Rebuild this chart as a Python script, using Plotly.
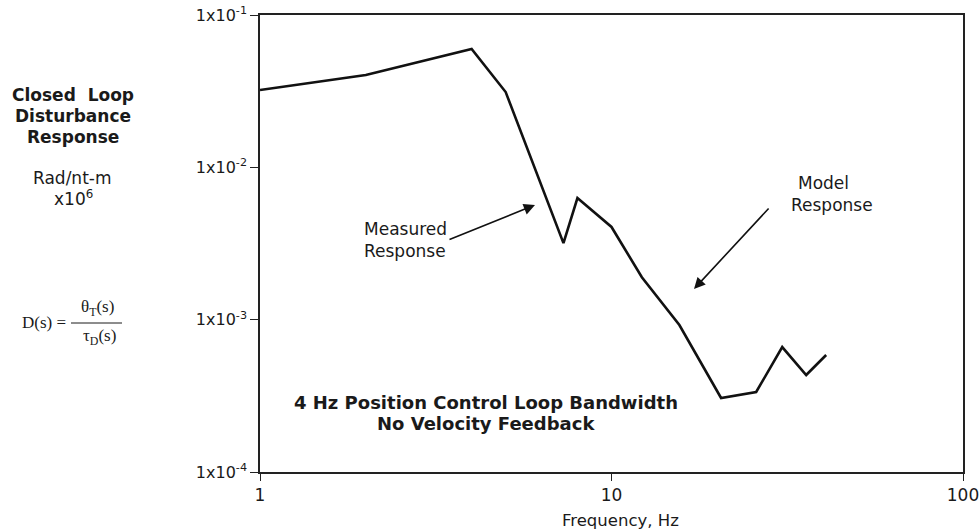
import plotly.graph_objects as go

# Data (frequency in Hz, response)
freq_hz = [1.0, 2.0, 4.0, 5.0, 7.3, 8.0, 10.0, 12.2, 15.6, 20.5, 25.8, 30.6, 35.8, 40.8]
response = [0.0322, 0.0404, 0.0598, 0.0312, 0.00318, 0.00629, 0.00406, 0.00190,
            0.000922, 0.000306, 0.000335, 0.000661, 0.000433, 0.000586]

y_tickvals = [1e-1, 1e-2, 1e-3, 1e-4]
y_ticktext = ["1x10<sup>-1</sup>", "1x10<sup>-2</sup>", "1x10<sup>-3</sup>", "1x10<sup>-4</sup>"]
x_tickvals = [1, 10, 100]
x_ticktext = ["1", "10", "100"]

W, H = 980, 532
L, R, T, B = 260, 963, 15, 472
FONT = "DejaVu Sans, Verdana, sans-serif"
SERIF = "Liberation Serif, Times New Roman, serif"


def px(x):
    return (x - L) / (R - L)


def py(y):
    return (B - y) / (B - T)


fig = go.Figure()
fig.add_trace(go.Scatter(x=freq_hz, y=response, mode="lines",
                         line=dict(color="#111111", width=2.6), showlegend=False,
                         hoverinfo="x+y"))

anns = []


def txt(x, y, s, size=17, bold=False, family=FONT, xanchor="center"):
    anns.append(dict(x=px(x), y=py(y), xref="paper", yref="paper", text=("<b>%s</b>" % s) if bold else s,
                     showarrow=False, font=dict(family=family, size=size, color="#1a1a1a"),
                     xanchor=xanchor, yanchor="middle"))


# left side description
txt(73, 95, "Closed  Loop", 17, True)
txt(73, 116, "Disturbance", 17, True)
txt(73, 137, "Response", 17, True)
txt(72, 178, "Rad/nt-m", 17)
txt(73, 198, "x10<sup>6</sup>", 17)
txt(44, 322, "D(s) =", 17, family=SERIF)
txt(97, 308, "θ<sub>T</sub>(s)", 17, family=SERIF)
txt(99, 337, "τ<sub>D</sub>(s)", 17, family=SERIF)

# in-plot texts
txt(405, 229, "Measured", 17)
txt(405, 251, "Response", 17)
txt(823, 183, "Model", 17)
txt(832, 205, "Response", 17)
txt(486, 402, "4 Hz Position Control Loop Bandwidth", 18, True)
txt(486, 423, "No Velocity Feedback", 18, True)

# x-axis title
txt(620, 520, "Frequency, Hz", 16.5)

# arrows
for (tx, ty, sx, sy) in [(535, 205, 448, 240), (694, 289, 770, 207)]:
    anns.append(dict(x=px(tx), y=py(ty), xref="paper", yref="paper", text="",
                     showarrow=True, ax=sx - tx, ay=sy - ty, axref="pixel", ayref="pixel",
                     arrowhead=2, arrowsize=1.4, arrowwidth=1.6, arrowcolor="#111111"))

fig.update_layout(
    template="none",
    width=W, height=H,
    margin=dict(l=L, r=W - R, t=T, b=H - B, pad=0),
    paper_bgcolor="white", plot_bgcolor="white",
    font=dict(family=FONT, size=17, color="#1a1a1a"),
    annotations=anns,
    showlegend=False,
    shapes=[dict(type="line", xref="paper", yref="paper", x0=px(71), x1=px(122),
                 y0=py(323), y1=py(323), line=dict(color="#1a1a1a", width=1))],
    xaxis=dict(type="log", range=[0, 2], tickvals=x_tickvals, ticktext=x_ticktext, automargin=False,
               showgrid=False, zeroline=False, showline=True, linecolor="#222222", linewidth=1.6,
               mirror=True, ticks="outside", ticklen=7, tickwidth=1.2, tickcolor="#222222",
               tickfont=dict(size=17)),
    yaxis=dict(type="log", range=[-4, -1], tickvals=y_tickvals, ticktext=y_ticktext, automargin=False,
               showgrid=False, zeroline=False, showline=True, linecolor="#222222", linewidth=1.6,
               mirror=True, ticks="outside", ticklen=8, tickwidth=1.2, tickcolor="#222222",
               tickfont=dict(size=16)),
)

fig.write_html("out.html")
